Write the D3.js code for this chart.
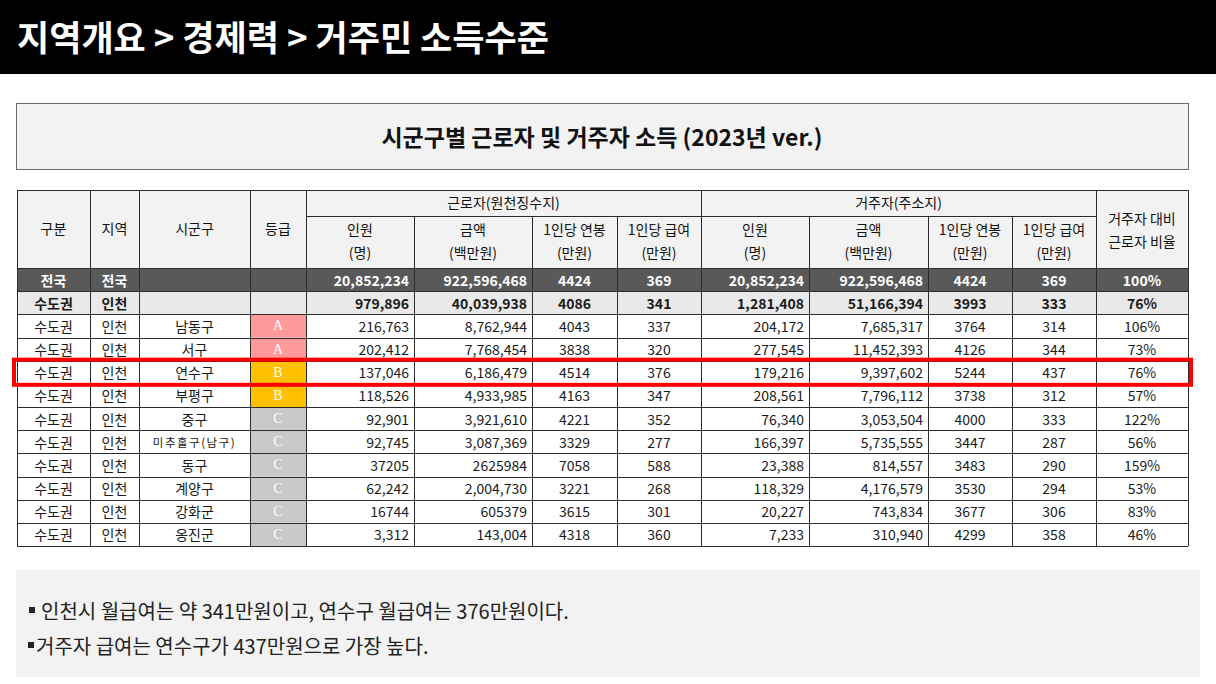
<!DOCTYPE html>
<html>
<head>
<meta charset="utf-8">
<script src="https://cdn.jsdelivr.net/npm/d3@7"></script>
<style>
  html, body { margin: 0; padding: 0; background: #fff; }
  svg { display: block; font-family: "Noto Sans CJK KR", "Noto Sans", sans-serif; }
</style>
</head>
<body>
<svg id="chart"></svg>
<script>
// Table data, one entry per row (전국, 인천 total, then the districts)
const zones = ['전국', '수도권', '수도권', '수도권', '수도권', '수도권', '수도권', '수도권', '수도권', '수도권', '수도권', '수도권'];
const areas = ['전국', '인천', '인천', '인천', '인천', '인천', '인천', '인천', '인천', '인천', '인천', '인천'];
const districts = ['', '', '남동구', '서구', '연수구', '부평구', '중구', '미추홀구(남구)', '동구', '계양구', '강화군', '옹진군'];
const grades = ['', '', 'A', 'A', 'B', 'B', 'C', 'C', 'C', 'C', 'C', 'C'];

const workerCount = [20852234, 979896, 216763, 202412, 137046, 118526, 92901, 92745, 37205, 62242, 16744, 3312];
const workerAmount = [922596468, 40039938, 8762944, 7768454, 6186479, 4933985, 3921610, 3087369, 2625984, 2004730, 605379, 143004];
const workerAnnual = [4424, 4086, 4043, 3838, 4514, 4163, 4221, 3329, 7058, 3221, 3615, 4318];
const workerMonthly = [369, 341, 337, 320, 376, 347, 352, 277, 588, 268, 301, 360];

const residentCount = [20852234, 1281408, 204172, 277545, 179216, 208561, 76340, 166397, 23388, 118329, 20227, 7233];
const residentAmount = [922596468, 51166394, 7685317, 11452393, 9397602, 7796112, 3053504, 5735555, 814557, 4176579, 743834, 310940];
const residentAnnual = [4424, 3993, 3764, 4126, 5244, 3738, 4000, 3447, 3483, 3530, 3677, 4299];
const residentMonthly = [369, 333, 314, 344, 437, 312, 333, 287, 290, 294, 306, 358];

const workerRatio = [100, 76, 106, 73, 76, 57, 122, 56, 159, 53, 83, 46];

// rows whose worker numbers are printed without separators in the source
const plainRows = ['동구', '강화군'];
const highlightRow = '연수구';

const subHeaders = [
  ['인원', '(명)'], ['금액', '(백만원)'], ['1인당 연봉', '(만원)'], ['1인당 급여', '(만원)'],
  ['인원', '(명)'], ['금액', '(백만원)'], ['1인당 연봉', '(만원)'], ['1인당 급여', '(만원)']
];
const notes = [
  '인천시 월급여는 약 341만원이고, 연수구 월급여는 376만원이다.',
  '거주자 급여는 연수구가 437만원으로 가장 높다.'
];

const W = 1216, H = 684;
const svg = d3.select('#chart').attr('width', W).attr('height', H);

// page header
svg.append('rect').attr('x', 0).attr('y', 0).attr('width', W).attr('height', 74).attr('fill', '#000');
svg.append('text')
  .attr('x', 17).attr('y', 51)
  .attr('fill', '#fff')
  .attr('font-size', 35).attr('font-weight', 700)
  .text('지역개요 > 경제력 > 거주민 소득수준');

// title box
svg.append('rect')
  .attr('x', 16.5).attr('y', 103.5).attr('width', 1172).attr('height', 66)
  .attr('fill', '#f2f2f2').attr('stroke', '#6b6b6b').attr('stroke-width', 1);
svg.append('text')
  .attr('x', 602).attr('y', 136)
  .attr('text-anchor', 'middle').attr('dominant-baseline', 'central')
  .attr('font-size', 23).attr('font-weight', 700).attr('fill', '#111')
  .text('시군구별 근로자 및 거주자 소득 (2023년 ver.)');

// column layout
const colWidths = [73, 49, 111, 56, 108, 118, 85, 84, 108, 119, 84, 84, 92];
const tableLeft = 17;
const colX = [tableLeft, ...d3.cumsum(colWidths).map(d => tableLeft + d)];
const tableRight = colX[colX.length - 1];

const headTop = 190, headMid = 216, bodyTop = 268, bodyBottom = 546;
const rowIdx = d3.range(districts.length);
const y = d3.scaleBand().domain(rowIdx).range([bodyTop, bodyBottom]);

const fmt = d3.format(',');
const line = '#2b2b2b';

const grid = svg.append('g');

// header background
grid.append('rect')
  .attr('x', tableLeft).attr('y', headTop)
  .attr('width', tableRight - tableLeft).attr('height', bodyTop - headTop)
  .attr('fill', '#f2f2f2');

// row backgrounds
grid.selectAll('.rowbg')
  .data(rowIdx)
  .join('rect')
  .attr('class', 'rowbg')
  .attr('x', tableLeft).attr('y', i => y(i))
  .attr('width', tableRight - tableLeft).attr('height', y.bandwidth())
  .attr('fill', i => i === 0 ? '#595959' : i === 1 ? '#e9e9e9' : '#fff');

// grade cells
const gradeColor = { A: '#ff9a9a', B: '#ffc000', C: '#c9c9c9' };
grid.selectAll('.grade')
  .data(rowIdx.filter(i => grades[i]))
  .join('rect')
  .attr('class', 'grade')
  .attr('x', colX[3]).attr('y', i => y(i))
  .attr('width', colWidths[3]).attr('height', y.bandwidth())
  .attr('fill', i => gradeColor[grades[i]]);

// horizontal grid lines
const hLines = [headTop, bodyTop, ...rowIdx.map(i => y(i) + y.bandwidth())];
grid.selectAll('.hl')
  .data(hLines)
  .join('line')
  .attr('x1', tableLeft).attr('x2', tableRight)
  .attr('y1', d => Math.round(d) + 0.5).attr('y2', d => Math.round(d) + 0.5)
  .attr('stroke', line);
// line under group headers
grid.append('line')
  .attr('x1', colX[4]).attr('x2', colX[12])
  .attr('y1', headMid + 0.5).attr('y2', headMid + 0.5)
  .attr('stroke', line);

// vertical grid lines (inner lines of the two groups start below the group header)
const innerGroup = [5, 6, 7, 9, 10, 11];
grid.selectAll('.vl')
  .data(colX.map((x, k) => ({ x, k })))
  .join('line')
  .attr('x1', d => d.x + 0.5).attr('x2', d => d.x + 0.5)
  .attr('y1', d => innerGroup.includes(d.k) ? headMid : headTop)
  .attr('y2', bodyBottom)
  .attr('stroke', line);

// header texts
const head = svg.append('g').attr('fill', '#111').attr('font-size', 14).attr('text-anchor', 'middle');
['구분', '지역', '시군구', '등급'].forEach((t, k) => {
  head.append('text')
    .attr('x', (colX[k] + colX[k + 1]) / 2).attr('y', 228)
    .attr('dominant-baseline', 'central')
    .text(t);
});
head.append('text').attr('x', (colX[4] + colX[8]) / 2).attr('y', 202)
  .attr('dominant-baseline', 'central').text('근로자(원천징수지)');
head.append('text').attr('x', (colX[8] + colX[12]) / 2).attr('y', 202)
  .attr('dominant-baseline', 'central').text('거주자(주소지)');
const ratioX = (colX[12] + colX[13]) / 2;
head.append('text').attr('x', ratioX).attr('y', 218).attr('dominant-baseline', 'central').text('거주자 대비');
head.append('text').attr('x', ratioX).attr('y', 241).attr('dominant-baseline', 'central').text('근로자 비율');
subHeaders.forEach((pair, k) => {
  const cx = (colX[k + 4] + colX[k + 5]) / 2;
  head.append('text').attr('x', cx).attr('y', 229).attr('dominant-baseline', 'central').text(pair[0]);
  head.append('text').attr('x', cx).attr('y', 252).attr('dominant-baseline', 'central').text(pair[1]);
});

// body cells
const num = (v, i) => plainRows.includes(districts[i]) ? String(v) : fmt(v);
const columns = [
  { k: 0, val: i => zones[i], align: 'middle' },
  { k: 1, val: i => areas[i], align: 'middle' },
  { k: 2, val: i => districts[i], align: 'middle' },
  { k: 4, val: i => num(workerCount[i], i), align: 'end' },
  { k: 5, val: i => num(workerAmount[i], i), align: 'end' },
  { k: 6, val: i => workerAnnual[i], align: 'middle' },
  { k: 7, val: i => workerMonthly[i], align: 'middle' },
  { k: 8, val: i => fmt(residentCount[i]), align: 'end' },
  { k: 9, val: i => fmt(residentAmount[i]), align: 'end' },
  { k: 10, val: i => residentAnnual[i], align: 'middle' },
  { k: 11, val: i => residentMonthly[i], align: 'middle' },
  { k: 12, val: i => workerRatio[i] + '%', align: 'middle' }
];

const cells = [];
rowIdx.forEach(i => columns.forEach(c => cells.push({ i, c })));

svg.append('g').selectAll('text')
  .data(cells)
  .join('text')
  .attr('x', d => d.c.align === 'end' ? colX[d.c.k + 1] - 5 : (colX[d.c.k] + colX[d.c.k + 1]) / 2)
  .attr('y', d => y(d.i) + y.bandwidth() / 2)
  .attr('dominant-baseline', 'central')
  .attr('text-anchor', d => d.c.align)
  .attr('font-size', d => (d.c.k === 2 && districts[d.i].length > 4) ? 11.5 : 14)
  .attr('letter-spacing', d => (d.c.k === 2 && districts[d.i].length > 4) ? 1.5 : 0)
  .attr('font-weight', d => d.i < 2 ? 700 : 400)
  .attr('fill', d => d.i === 0 ? '#fff' : '#1a1a1a')
  .text(d => d.c.val(d.i));

// grade letters
svg.append('g').selectAll('text')
  .data(rowIdx.filter(i => grades[i]))
  .join('text')
  .attr('x', (colX[3] + colX[4]) / 2)
  .attr('y', i => y(i) + y.bandwidth() / 2)
  .attr('dominant-baseline', 'central')
  .attr('text-anchor', 'middle')
  .attr('font-family', '"Liberation Serif", serif')
  .attr('font-size', 14)
  .attr('fill', '#fff')
  .text(i => grades[i]);

// highlight box
const hi = districts.indexOf(highlightRow);
svg.append('rect')
  .attr('x', tableLeft - 3).attr('y', y(hi) - 1)
  .attr('width', tableRight - tableLeft + 6).attr('height', y.bandwidth() + 2)
  .attr('fill', 'none').attr('stroke', '#f00').attr('stroke-width', 4);

// notes
svg.append('rect')
  .attr('x', 16).attr('y', 570).attr('width', 1184).attr('height', 107)
  .attr('fill', '#f2f2f2');
const noteRows = svg.append('g').selectAll('g')
  .data(notes)
  .join('g')
  .attr('transform', (d, k) => `translate(0,${610 + k * 35})`);
noteRows.append('rect')
  .attr('x', (d, k) => k === 0 ? 29 : 28).attr('y', -3)
  .attr('width', 6).attr('height', 6)
  .attr('fill', '#222');
noteRows.append('text')
  .attr('x', (d, k) => k === 0 ? 41 : 36)
  .attr('dominant-baseline', 'central')
  .attr('font-size', 20)
  .attr('fill', '#222')
  .text(d => d);
</script>
</body>
</html>
